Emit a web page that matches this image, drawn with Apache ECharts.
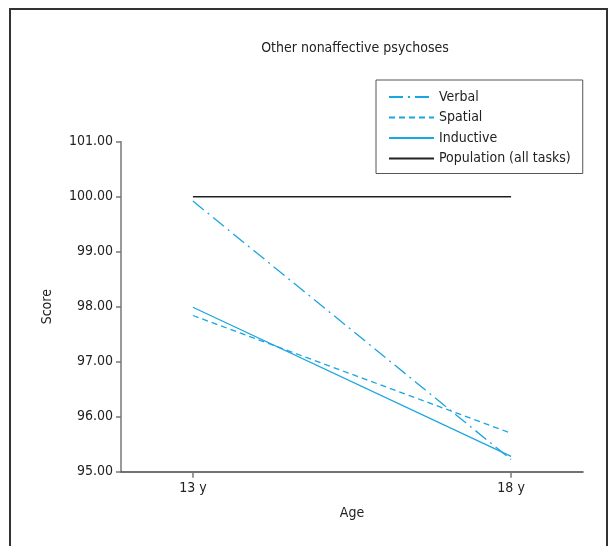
<!DOCTYPE html>
<html>
<head>
<meta charset="utf-8">
<script src="https://cdn.jsdelivr.net/npm/echarts@6/dist/echarts.min.js"></script>
<style>
html,body{margin:0;padding:0;background:#fff;}
#chart{width:610px;height:546px;}
</style>
</head>
<body>
<div id="chart"></div>
<script>
const ages = [13, 18];
const ageLabels = ['13 y', '18 y'];
const verbal = [99.92, 95.22];
const spatial = [97.84, 95.70];
const inductive = [97.99, 95.28];
const population = [100.00, 100.00];
const yTicks = [95, 96, 97, 98, 99, 100, 101];

const FONT = "'Liberation Sans Narrow', 'DejaVu Sans Condensed', 'Roboto Condensed', sans-serif";
const BLUE = '#1aa6e0';

function pts(vals) { return ages.map((a, i) => [a, vals[i]]); }

const chart = echarts.init(document.getElementById('chart'), null, {renderer: 'canvas'});
chart.setOption({
  animation: false,
  backgroundColor: '#fff',
  textStyle: {fontFamily: FONT},
  title: {
    text: 'Other nonaffective psychoses',
    left: 350, top: 36, textAlign: 'center',
    textStyle: {fontFamily: FONT, fontSize: 14, fontWeight: 'normal', color: '#222'}
  },
  graphic: [{
    type: 'rect', silent: true,
    shape: {x: 10, y: 9, width: 597, height: 560},
    style: {fill: 'none', stroke: '#333', lineWidth: 2}
  }],
  legend: {
    orient: 'vertical', left: 376, top: 80,
    padding: [10, 12, 8, 12],
    itemWidth: 45, itemHeight: 14, itemGap: 6.5,
    borderColor: '#555', borderWidth: 1,
    itemStyle: {opacity: 0},
    textStyle: {fontFamily: FONT, fontSize: 14, color: '#222'},
    data: ['Verbal', 'Spatial', 'Inductive', 'Population (all tasks)']
  },
  grid: {left: 121, right: 27, top: 141.7, bottom: 74.3, containLabel: false},
  xAxis: {
    type: 'value', min: 11.87, max: 19.13,
    name: 'Age', nameLocation: 'middle', nameGap: 35,
    nameTextStyle: {fontFamily: FONT, fontSize: 14, color: '#222'},
    axisLine: {show: true, lineStyle: {color: '#444', width: 1.5}},
    axisTick: {show: true, length: 6, customValues: ages, lineStyle: {color: '#777', width: 1.5}},
    axisLabel: {customValues: ages, formatter: v => ageLabels[ages.indexOf(v)] || '', fontFamily: FONT, fontSize: 14, color: '#222', margin: 10},
    splitLine: {show: false}
  },
  yAxis: {
    type: 'value', min: 95, max: 101, interval: 1,
    name: 'Score', nameLocation: 'middle', nameGap: 67, nameRotate: 90,
    nameTextStyle: {fontFamily: FONT, fontSize: 14, color: '#222'},
    axisLine: {show: true, lineStyle: {color: '#777', width: 1.5}},
    axisTick: {show: true, length: 5, lineStyle: {color: '#777', width: 1.5}},
    axisLabel: {formatter: v => v.toFixed(2), fontFamily: FONT, fontSize: 14, color: '#222', margin: 8},
    splitLine: {show: false}
  },
  series: [
    {name: 'Verbal', type: 'line', data: pts(verbal), symbol: 'none',
     lineStyle: {color: BLUE, width: 1.3, type: [14, 5, 2, 5]}, itemStyle: {color: BLUE}},
    {name: 'Spatial', type: 'line', data: pts(spatial), symbol: 'none',
     lineStyle: {color: BLUE, width: 1.3, type: [6, 4]}, itemStyle: {color: BLUE}},
    {name: 'Inductive', type: 'line', data: pts(inductive), symbol: 'none',
     lineStyle: {color: BLUE, width: 1.3, type: 'solid'}, itemStyle: {color: BLUE}},
    {name: 'Population (all tasks)', type: 'line', data: pts(population), symbol: 'none',
     lineStyle: {color: '#222', width: 1.5, type: 'solid'}, itemStyle: {color: '#222'}}
  ]
});
</script>
</body>
</html>
